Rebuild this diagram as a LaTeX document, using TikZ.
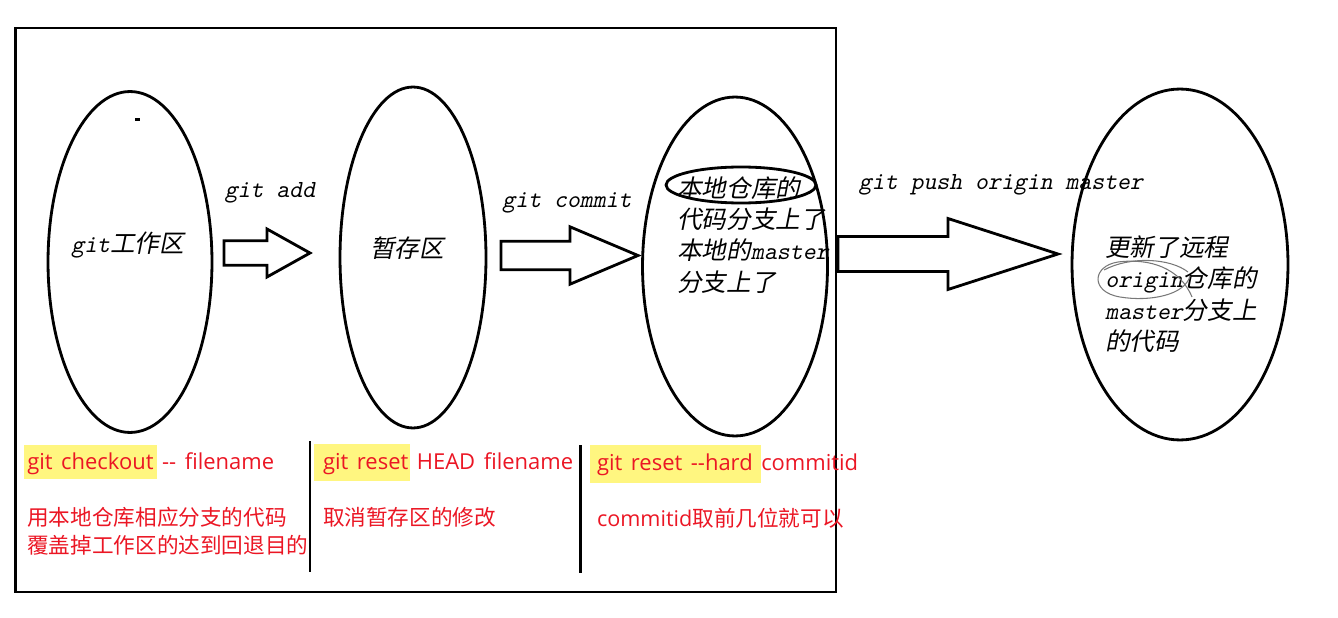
\documentclass[tikz,border=0pt]{standalone}
\usepackage{fontspec}
\usepackage{tikz}
\usetikzlibrary{calc}
\usetikzlibrary{shapes.geometric}

\newfontfamily\cjkslant[FakeSlant=0.2]{Noto Sans CJK SC}
\newfontfamily\cjkred[Ligatures=TeXOff]{Noto Sans CJK SC}
\newfontfamily\latred[Ligatures=TeXOff,WordSpace=1.5]{Open Sans}
\newfontfamily\gitmono[FakeSlant=0.2]{lmmono10-regular.otf}
\newcommand{\gitlat}[1]{{\gitmono\fontsize{14}{16}\selectfont #1}}

\definecolor{notered}{RGB}{235,22,36}
\definecolor{markyellow}{RGB}{255,246,128}
\definecolor{penciltone}{RGB}{120,120,120}

\tikzset{
  stage/.style={ellipse, draw, line width=1.6pt, inner sep=0pt},
  fatline/.style={line width=1.6pt, line join=miter},
  cmdlabel/.style={inner sep=0pt, font=\gitmono\fontsize{14}{16}\selectfont},
  areatext/.style={inner sep=0pt, align=left, font=\cjkslant\fontsize{14}{17.8}\selectfont},
  notetext/.style={inner sep=0pt, text=notered, font=\cjkred\fontsize{12.3}{14}\selectfont},
  notecmd/.style={inner sep=0pt, text=notered, font=\latred\fontsize{12.5}{14}\selectfont},
}

% #1 tail, #2 tip, #3 head length, #4 half shaft, #5 half head
\newcommand{\fatarrow}[5]{%
  \draw [fatline] ($(#1)+(0,-#4)$) -- ($(#2)+(-#3,-#4)$) -- ($(#2)+(-#3,-#5)$) -- (#2)
    -- ($(#2)+(-#3,#5)$) -- ($(#2)+(-#3,#4)$) -- ($(#1)+(0,#4)$) -- cycle;}

\begin{document}
\begin{tikzpicture}[x=0.02cm,y=-0.02cm]
                        \useasboundingbox (0,0) rectangle (1338,618);

                        % Drawing frame
                        \draw [line width=1.6pt] (15.5,28) rectangle (836,592);%

                        % Drawing the four areas
                        \node [stage, minimum width=3.28cm, minimum height=6.82cm] (workarea) at (130,262) {};%
                        \node [stage, minimum width=2.92cm, minimum height=6.82cm] (stagearea) at (413,257.5) {};%
                        \node [stage, minimum width=3.70cm, minimum height=6.78cm] (localrepo) at (735,266.5) {};%
                        \node [stage, minimum width=4.32cm, minimum height=7.02cm] (remoterepo) at (1180,264.5) {};%

                        % Marking dot in work area
                        \fill (135,118.5) rectangle (140,121.5);%

                        % Texts of the areas
                        \node [areatext, anchor=west] (worktext) at (71,245) {\gitlat{git}工作区};%
                        \node [areatext] (stagetext) at (407,248) {暂存区};%
                        \node [areatext, anchor=west] (localtext) at (677,235) {本地仓库的\\代码分支上了\\本地的\gitlat{master}\\分支上了};%
                        \node [areatext, anchor=west] (remotetext) at (1105,294) {更新了远程\\\gitlat{origin}仓库的\\\gitlat{master}分支上\\的代码};%

                        % Marking ellipse round first line
                        \node [stage, minimum width=3.0cm, minimum height=0.72cm] (localmark) at (741,185) {};%

                        % Marking pencil loop round origin
                        \draw [penciltone, line width=0.6pt] (1192,297) .. controls (1180,268) and (1150,258) .. (1118,262)
                          .. controls (1092,266) and (1090,292) .. (1120,297) .. controls (1150,302) and (1185,295) .. (1190,276);%
                        \draw [penciltone, line width=0.6pt] (1104,270) .. controls (1130,256) and (1170,258) .. (1188,272);%

                        % Drawing arrows
                        \coordinate (addtail) at (224,253);%
                        \coordinate (addtip) at (310,253);%
                        \coordinate (committail) at (501,255.5);%
                        \coordinate (committip) at (638,255.5);%
                        \coordinate (pushtail) at (838,254);%
                        \coordinate (pushtip) at (1058,254);%
                        \fatarrow{addtail}{addtip}{43}{12.2}{24}%
                        \fatarrow{committail}{committip}{68}{14.2}{28.7}%
                        \fatarrow{pushtail}{pushtip}{110}{17.5}{35.5}%

                        % Marking commands above arrows
                        \node [cmdlabel] (addlabel) at (270,193) {git add};%
                        \node [cmdlabel] (commitlabel) at (567,203) {git commit};%
                        \node [cmdlabel] (pushlabel) at (1001,185) {git push origin master};%

                        % Drawing separators
                        \draw [line width=1.4pt] (310,441) -- (310,572);%
                        \draw [line width=1.4pt] (580.7,445) -- (580.7,573);%

                        % Marking highlights
                        \fill [markyellow] (24,445) rectangle (157,479);%
                        \fill [markyellow] (314,444) rectangle (410,481);%
                        \fill [markyellow] (590,445) rectangle (761,483);%

                        % Notes below
                        \node [notecmd, anchor=base west] (checkoutcmd) at (27,469) {git checkout -- filename};%
                        \node [notetext, anchor=west] (checkoutnote) at (27,517) {用本地仓库相应分支的代码};%
                        \node [notetext, anchor=west] (checkoutnotetwo) at (27,545) {覆盖掉工作区的达到回退目的};%
                        \node [notecmd, anchor=base west] (resetcmd) at (322.7,469) {git reset HEAD filename};%
                        \node [notetext, anchor=west] (resetnote) at (322.7,517) {取消暂存区的修改};%
                        \node [notecmd, anchor=base west] (hardcmd) at (596.7,470) {git reset --hard commitid};%
                        \node [notetext, anchor=west] (hardnote) at (596.7,518) {{\fontspec{Open Sans}commitid}取前几位就可以};%
\end{tikzpicture}
\end{document}
